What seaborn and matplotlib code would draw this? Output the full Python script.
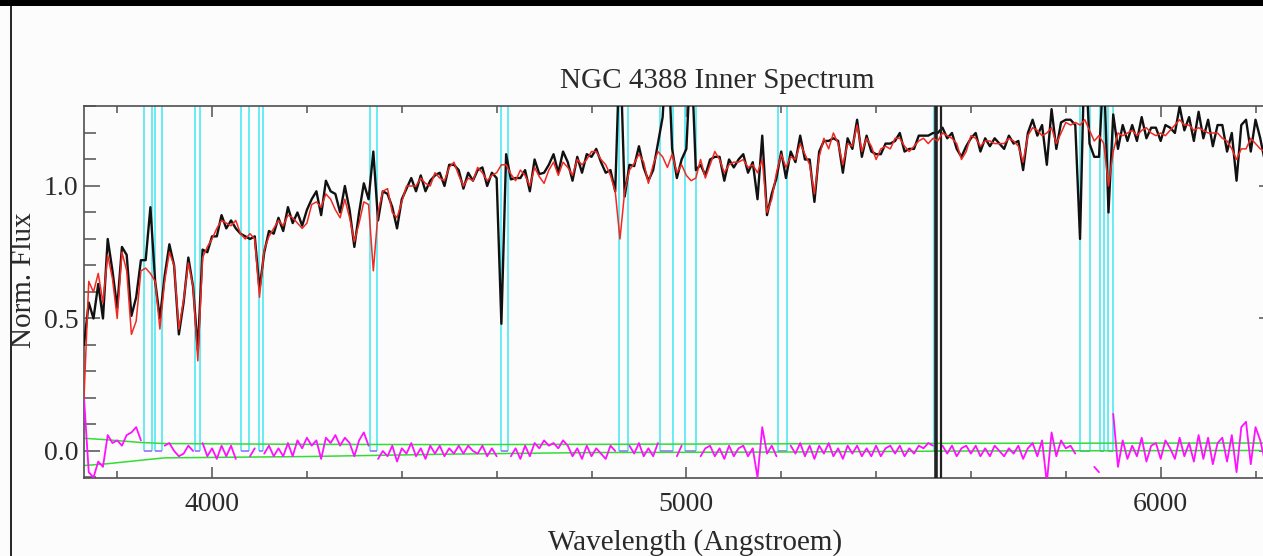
import numpy as np
import pandas as pd
import seaborn as sns
import matplotlib
matplotlib.use("Agg")
from matplotlib import pyplot as plt
from matplotlib.ticker import MultipleLocator, FixedLocator, FormatStrFormatter
from matplotlib.lines import Line2D
from matplotlib.patches import Rectangle

# spectrum sampled every 10 Angstroem from 3730
wave_start, wave_step = 3730, 10

# red: model fit
model = [
	0.20, 0.64, 0.60, 0.67, 0.56, 0.74, 0.65, 0.50, 0.75, 0.68,
	0.44, 0.49, 0.68, 0.69, 0.67, 0.64, 0.46, 0.64, 0.75, 0.70,
	0.46, 0.57, 0.71, 0.62, 0.34, 0.73, 0.77, 0.80, 0.84, 0.87,
	0.86, 0.85, 0.87, 0.82, 0.80, 0.82, 0.80, 0.58, 0.76, 0.81,
	0.84, 0.87, 0.85, 0.89, 0.88, 0.86, 0.84, 0.86, 0.93, 0.94,
	0.92, 0.97, 0.95, 0.91, 0.88, 0.95, 0.88, 0.79, 0.86, 0.94,
	0.93, 0.68, 0.90, 0.98, 0.99, 0.90, 0.88, 0.94, 1.00, 1.00,
	1.00, 1.03, 1.01, 1.00, 1.05, 1.03, 1.02, 1.07, 1.09, 1.04,
	1.00, 1.03, 1.02, 1.07, 1.05, 1.02, 1.04, 1.05, 1.08, 1.08,
	1.045, 1.02, 1.06, 1.04, 1.00, 1.07, 1.035, 1.01, 1.06, 1.09,
	1.04, 1.09, 1.07, 1.04, 1.10, 1.08, 1.10, 1.13, 1.13, 1.10,
	1.08, 1.04, 0.98, 0.80, 0.98, 1.06, 1.085, 1.12, 1.09, 1.01,
	1.08, 1.13, 1.11, 1.07, 1.12, 1.05, 1.08, 1.04, 1.02, 1.03,
	1.10, 1.03, 1.08, 1.13, 1.10, 1.05, 1.08, 1.09, 1.09, 1.10,
	1.07, 1.08, 1.05, 1.10, 0.90, 0.95, 1.05, 1.12, 1.07, 1.11,
	1.10, 1.16, 1.12, 1.08, 0.97, 1.11, 1.18, 1.14, 1.20, 1.16,
	1.08, 1.16, 1.15, 1.23, 1.13, 1.18, 1.15, 1.10, 1.14, 1.15,
	1.14, 1.18, 1.18, 1.15, 1.13, 1.15, 1.17, 1.18, 1.16, 1.18,
	1.17, 1.20, 1.19, 1.18, 1.16, 1.10, 1.13, 1.19, 1.18, 1.15,
	1.17, 1.17, 1.16, 1.16, 1.16, 1.18, 1.17, 1.15, 1.09, 1.19,
	1.22, 1.21, 1.19, 1.20, 1.22, 1.16, 1.20, 1.24, 1.23, 1.24,
	1.23, 1.25, 1.21, 1.17, 1.19, 1.16, 1.00, 1.13, 1.20, 1.19,
	1.20, 1.21, 1.19, 1.21, 1.22, 1.20, 1.19, 1.20, 1.19, 1.21,
	1.23, 1.25, 1.23, 1.23, 1.21, 1.22, 1.21, 1.20, 1.20, 1.20,
	1.18, 1.17, 1.14, 1.10, 1.14, 1.14, 1.18, 1.16, 1.14, 1.13,
]

# magenta: residual (data - model)
resid = [
	0.20, -0.08, -0.10, -0.04, -0.06, 0.06, 0.03, 0.04, 0.02, 0.06,
	0.07, 0.09, 0.04, 0.03, 0.25, 0.00, 0.04, 0.02, 0.03, 0.00,
	-0.02, -0.01, 0.02, 0.00, 0.04, 0.03, -0.02, 0.01, -0.03, 0.02,
	-0.02, 0.02, -0.03, 0.00, 0.01, -0.02, 0.01, 0.03, -0.01, 0.02,
	-0.02, 0.01, -0.02, 0.03, -0.02, 0.04, 0.01, 0.05, 0.02, 0.04,
	-0.03, 0.05, 0.03, 0.06, 0.02, 0.05, 0.03, -0.02, 0.04, 0.07,
	0.02, 0.45, -0.03, 0.00, -0.02, 0.02, -0.04, 0.01, -0.01, 0.03,
	-0.02, 0.01, -0.03, 0.02, -0.01, 0.02, -0.02, 0.01, -0.01, 0.02,
	-0.01, 0.02, 0.00, -0.01, 0.02, -0.02, 0.01, -0.02, -0.60, 0.04,
	-0.02, 0.01, -0.03, 0.02, -0.02, 0.03, 0.01, 0.04, 0.02, 0.03,
	0.01, 0.04, 0.02, -0.02, 0.01, -0.03, 0.02, -0.02, 0.01, -0.01,
	-0.03, 0.02, 0.00, 0.75, -0.02, 0.02, -0.01, 0.03, -0.02, 0.01,
	-0.02, 0.03, 0.15, 0.50, 0.02, -0.02, 0.02, 0.10, 0.50, 0.03,
	-0.02, 0.01, 0.02, -0.02, 0.01, -0.03, 0.02, -0.02, 0.01, 0.02,
	-0.02, 0.01, -0.10, 0.09, -0.01, 0.02, -0.02, 0.01, -0.04, 0.02,
	-0.01, 0.03, -0.02, 0.02, -0.03, 0.02, -0.01, 0.03, -0.02, 0.01,
	-0.03, 0.02, -0.01, 0.02, -0.02, 0.01, -0.02, 0.02, -0.02, 0.01,
	0.02, -0.01, 0.02, -0.02, 0.01, -0.01, 0.02, 0.01, 0.03, 0.02,
	0.03, 0.02, -0.01, 0.02, -0.02, 0.01, 0.02, -0.01, 0.02, -0.02,
	0.01, -0.02, 0.02, 0.00, -0.02, 0.01, -0.01, 0.02, -0.03, 0.01,
	0.03, -0.02, 0.04, -0.12, 0.07, -0.02, 0.04, 0.01, 0.02, -0.01,
	-0.43, 0.30, -0.05, -0.06, -0.08, 0.30, -0.10, 0.14, -0.06, 0.04,
	-0.03, 0.02, -0.02, 0.05, -0.04, 0.02, 0.03, -0.03, 0.04, 0.01,
	-0.03, 0.05, -0.02, 0.03, -0.04, 0.06, -0.03, 0.05, -0.05, 0.03,
	0.05, -0.04, 0.06, -0.08, 0.09, 0.11, -0.05, 0.09, 0.04, -0.04,
]

# masked regions (cyan)
mask_lo = [3857, 3879, 3964, 4060, 4098, 4333, 4609, 4859, 4945, 4998, 5193, 5522, 5829, 5872, 5890]
mask_hi = [3873, 3894, 3975, 4077, 4108, 4347, 4623, 4876, 4972, 5020, 5212, 5537, 5852, 5881, 5899]

# sky line residual (black, full height)
sky_lines = [5527, 5536]

# noise level (green)
green_wave = [3730, 3780, 3850, 3900, 4200, 4500, 4800, 5200, 5600, 6240]
green_hi = [0.048, 0.042, 0.032, 0.028, 0.025, 0.024, 0.025, 0.027, 0.029, 0.030]
green_lo = [-0.055, -0.048, -0.035, -0.026, -0.021, -0.012, -0.006, -0.004, 0.0, 0.002]


wave = wave_start + wave_step * np.arange(len(model))
flux = np.array(model) + np.array(resid)
masked = np.zeros(len(wave), dtype=bool)
for lo, hi in zip(mask_lo, mask_hi):
	masked |= (wave >= lo) & (wave <= hi)
df = pd.DataFrame({'wave': wave, 'flux': flux, 'model': model,
	'resid': resid, 'seg': np.cumsum(masked)})
good = df[~masked]
gdf = pd.DataFrame({'wave': green_wave, 'hi': green_hi, 'lo': green_lo})

sns.set_style("ticks")
plt.rcParams['font.family'] = ['Liberation Serif', 'DejaVu Serif']
bg = '#fcfcfc'
txt = '#2a2a2a'
axc = '#505050'

W, H = 1263, 556
fig = plt.figure(figsize=(W / 100, H / 100), dpi=100, facecolor=bg)
x0, x1, y0, y1 = 84, 1275, 105.7, 478
ax = fig.add_axes([x0 / W, 1 - y1 / H, (x1 - x0) / W, (y1 - y0) / H])
ax.set_facecolor(bg)

top = 1.303
ax.vlines(mask_lo + mask_hi, 0, top + 0.1, color='#4fe8f2', lw=1.2, zorder=1)
ax.hlines(np.zeros(len(mask_lo)), mask_lo, mask_hi, color='#9a70ff', lw=1.2, zorder=2)
sns.lineplot(data=gdf, x='wave', y='hi', color='#33dd33', lw=1.1, ax=ax, zorder=2)
sns.lineplot(data=gdf, x='wave', y='lo', color='#33dd33', lw=1.1, ax=ax, zorder=2)
sns.lineplot(data=good, x='wave', y='resid', units='seg', estimator=None,
	color='#ff10ff', lw=1.3, ax=ax, zorder=3)
sns.lineplot(data=df, x='wave', y='flux', estimator=None, color='#111111', lw=1.7, ax=ax, zorder=4)
ax.vlines(sky_lines, -0.2, 1.5, color='#222222', lw=[2.6, 1.6], zorder=4)
sns.lineplot(data=df, x='wave', y='model', estimator=None, color='#f02a22', lw=1.1, ax=ax, zorder=5)

ax.set_xlim(3730, 3730 + (x1 - x0) / 0.4743)
ax.set_ylim(-0.102, top)
ax.set_xlabel('')
ax.set_ylabel('')
ax.xaxis.set_major_locator(FixedLocator([4000, 5000, 6000]))
ax.xaxis.set_minor_locator(MultipleLocator(200))
ax.yaxis.set_major_locator(FixedLocator([0.0, 0.5, 1.0]))
ax.yaxis.set_minor_locator(MultipleLocator(0.1))
ax.yaxis.set_major_formatter(FormatStrFormatter('%.1f'))
ax.tick_params(which='both', direction='in', top=True, right=True, color=axc, width=1.1)
ax.tick_params(axis='x', which='major', length=8, pad=10, labelsize=20, labelcolor=txt)
ax.tick_params(axis='x', which='minor', length=5)
ax.tick_params(axis='y', which='major', length=11.5, pad=4, labelsize=20, labelcolor=txt)
ax.tick_params(axis='y', which='minor', length=8.5)
for s in ax.spines.values():
	s.set_color(axc)
	s.set_linewidth(1.2)

fig.text(717 / W, 1 - 88 / H, 'NGC 4388 Inner Spectrum', ha='center', va='baseline',
	fontsize=21, color=txt)
fig.text(695 / W, 1 - 550 / H, 'Wavelength (Angstroem)', ha='center', va='baseline',
	fontsize=21, color=txt)
fig.text(24 / W, 1 - 280 / H, 'Norm. Flux', ha='center', va='center', rotation=90,
	fontsize=21, color=txt)

# screenshot frame
fig.add_artist(Rectangle((0, 1 - 6 / H), 1, 6 / H, transform=fig.transFigure,
	facecolor='black', edgecolor='none'))
fig.add_artist(Line2D([10.5 / W, 10.5 / W], [0, 1], transform=fig.transFigure,
	color='black', lw=1.2))

fig.savefig('out.png', dpi=100, facecolor=bg)
